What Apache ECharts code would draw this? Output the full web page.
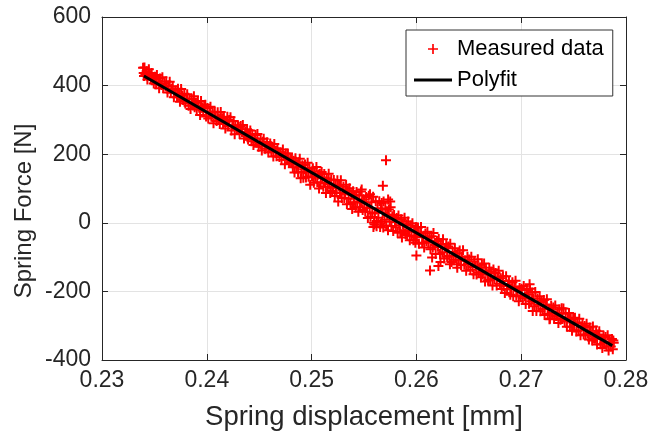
<!DOCTYPE html>
<html>
<head>
<meta charset="utf-8">
<title>Spring force vs displacement</title>
<script src="https://cdn.jsdelivr.net/npm/echarts@6/dist/echarts.min.js"></script>
<style>
  html, body { margin: 0; padding: 0; background: #fff; }
  #chart { width: 662px; height: 436px; }
</style>
</head>
<body>
<div id="chart"></div>
<script>
// Measured spring displacement [mm], one row per 0.001 mm slice
const dispMm = [
  0.23392, 0.23398, 0.23401, 0.23405, 0.23414, 0.23426, 0.23433, 0.23447, 0.23455, 0.23466, 0.23474, 0.23487, 0.23494,
  0.23504, 0.23516, 0.23524, 0.23537, 0.23545, 0.23553, 0.23567, 0.23576, 0.23584, 0.23596,
  0.23606, 0.23613, 0.23625, 0.23634, 0.23646, 0.23657, 0.23664, 0.23675, 0.23686, 0.23693,
  0.23703, 0.23716, 0.23725, 0.23736, 0.23744, 0.23755, 0.23767, 0.23774, 0.23786, 0.23795,
  0.23805, 0.23813, 0.23826, 0.23834, 0.23845, 0.23856, 0.23865, 0.23877, 0.23884, 0.23896,
  0.23904, 0.23915, 0.23923, 0.23936, 0.23945, 0.23954, 0.23966, 0.23975, 0.23986, 0.23993,
  0.24006, 0.24014, 0.24027, 0.24035, 0.24043, 0.24057, 0.24064, 0.24076, 0.24085, 0.24094,
  0.24104, 0.24116, 0.24124, 0.24133, 0.24146, 0.24155, 0.24163, 0.24177, 0.24184, 0.24196,
  0.24203, 0.24214, 0.24226, 0.24235, 0.24244, 0.24256, 0.24266, 0.24273, 0.24285, 0.24297,
  0.24305, 0.24313, 0.24324, 0.24337, 0.24344, 0.24355, 0.24366, 0.24375, 0.24384, 0.24394,
  0.24404, 0.24415, 0.24426, 0.24434, 0.24445, 0.24453, 0.24465, 0.24476, 0.24483, 0.24495,
  0.24506, 0.24514, 0.24525, 0.24536, 0.24543, 0.24556, 0.24564, 0.24575, 0.24587, 0.24594,
  0.24605, 0.24616, 0.24624, 0.24635, 0.24644, 0.24657, 0.24665, 0.24674, 0.24686, 0.24693,
  0.24704, 0.24713, 0.24726, 0.24734, 0.24745, 0.24754, 0.24767, 0.24774, 0.24785, 0.24796,
  0.24804, 0.24812, 0.24821, 0.24829, 0.24837, 0.24846, 0.24854, 0.24862, 0.24871, 0.24879, 0.24887, 0.24896,
  0.24904, 0.24912, 0.24921, 0.24929, 0.24937, 0.24946, 0.24954, 0.24962, 0.24971, 0.24979, 0.24987, 0.24996,
  0.25004, 0.25012, 0.25021, 0.25029, 0.25037, 0.25046, 0.25054, 0.25062, 0.25071, 0.25079, 0.25087, 0.25096,
  0.25103, 0.25112, 0.25121, 0.25128, 0.25137, 0.25145, 0.25154, 0.25163, 0.25171, 0.25178, 0.25187, 0.25196,
  0.25204, 0.25212, 0.25221, 0.25229, 0.25238, 0.25246, 0.25254, 0.25262, 0.25271, 0.25279, 0.25288, 0.25296,
  0.25304, 0.25312, 0.25321, 0.25329, 0.25337, 0.25346, 0.25354, 0.25362, 0.25371, 0.25379, 0.25387, 0.25396,
  0.25404, 0.25412, 0.25421, 0.25429, 0.25437, 0.25446, 0.25454, 0.25462, 0.25471, 0.25479, 0.25487, 0.25496,
  0.25504, 0.25512, 0.25521, 0.25529, 0.25537, 0.25546, 0.25554, 0.25562, 0.25571, 0.25579, 0.25587, 0.25596,
  0.25604, 0.25612, 0.25621, 0.25629, 0.25637, 0.25646, 0.25654, 0.25662, 0.25671, 0.25679, 0.25687, 0.25696,
  0.25704, 0.25712, 0.25721, 0.25729, 0.25737, 0.25746, 0.25754, 0.25762, 0.25771, 0.25779, 0.25787, 0.25796,
  0.25804, 0.25812, 0.25821, 0.25829, 0.25837, 0.25846, 0.25854, 0.25862, 0.25871, 0.25879, 0.25887, 0.25896,
  0.25904, 0.25912, 0.25921, 0.25929, 0.25937, 0.25946, 0.25954, 0.25962, 0.25971, 0.25979, 0.25987, 0.25996,
  0.26004, 0.26015, 0.26024, 0.26036, 0.26044, 0.26055, 0.26066, 0.26074, 0.26086, 0.26095,
  0.26105, 0.26114, 0.26126, 0.26134, 0.26145, 0.26156, 0.26163, 0.26176, 0.26184, 0.26196,
  0.26206, 0.26213, 0.26225, 0.26234, 0.26247, 0.26254, 0.26265, 0.26276, 0.26285, 0.26293,
  0.26304, 0.26316, 0.26323, 0.26335, 0.26346, 0.26354, 0.26367, 0.26375, 0.26386, 0.26394,
  0.26405, 0.26413, 0.26426, 0.26434, 0.26445, 0.26457, 0.26464, 0.26475, 0.26487, 0.26494,
  0.26503, 0.26515, 0.26524, 0.26536, 0.26545, 0.26553, 0.26567, 0.26574, 0.26586, 0.26595,
  0.26604, 0.26616, 0.26625, 0.26633, 0.26646, 0.26655, 0.26664, 0.26677, 0.26684, 0.26696,
  0.26704, 0.26713, 0.26726, 0.26735, 0.26743, 0.26755, 0.26766, 0.26774, 0.26785, 0.26797,
  0.26805, 0.26814, 0.26826, 0.26833, 0.26844, 0.26856, 0.26865, 0.26876, 0.26883, 0.26896,
  0.26903, 0.26916, 0.26924, 0.26935, 0.26946, 0.26953, 0.26965, 0.26977, 0.26985, 0.26994,
  0.27004, 0.27015, 0.27024, 0.27036, 0.27043, 0.27054, 0.27066, 0.27075, 0.27084, 0.27096,
  0.27105, 0.27113, 0.27126, 0.27134, 0.27145, 0.27155, 0.27164, 0.27176, 0.27184, 0.27195,
  0.27204, 0.27216, 0.27223, 0.27236, 0.27245, 0.27253, 0.27265, 0.27274, 0.27286, 0.27295,
  0.27306, 0.27314, 0.27325, 0.27333, 0.27346, 0.27355, 0.27363, 0.27375, 0.27386, 0.27394,
  0.27403, 0.27415, 0.27424, 0.27436, 0.27444, 0.27456, 0.27465, 0.27473, 0.27485, 0.27496,
  0.27504, 0.27513, 0.27526, 0.27534, 0.27546, 0.27554, 0.27566, 0.27574, 0.27585, 0.27596,
  0.27605, 0.27614, 0.27624, 0.27635, 0.27646, 0.27653, 0.27664, 0.27677, 0.27684, 0.27695,
  0.27704, 0.27715, 0.27724, 0.27733, 0.27745, 0.27756, 0.27765, 0.27774, 0.27786, 0.27793,
  0.27805, 0.27814, 0.27825, 0.27834, 0.27846, 0.27855, 0.27866, 0.27874, 0.27879, 0.27883
];

// Measured spring force [N], same rows as dispMm
const forceN = [
  452, 437, 428, 453, 431, 442, 418, 448, 430, 418, 437, 422, 406,
  426, 404, 431, 412, 392, 421, 402, 424, 393, 406,
  398, 412, 380, 400, 411, 380, 391, 398, 366, 380,
  386, 366, 391, 371, 353, 390, 371, 358, 376, 348,
  362, 375, 341, 361, 332, 362, 347, 369, 337, 350,
  330, 355, 340, 314, 355, 337, 324, 340, 344, 310,
  335, 304, 324, 338, 309, 323, 290, 324, 310, 297,
  322, 304, 288, 323, 305, 290, 308, 275, 296, 309,
  282, 300, 308, 269, 284, 297, 258, 284, 271, 284,
  279, 259, 282, 265, 285, 246, 265, 254, 273, 243,
  257, 269, 238, 258, 227, 246, 256, 234, 259, 222,
  231, 245, 211, 236, 245, 216, 225, 235, 205, 224,
  231, 208, 222, 193, 230, 208, 194, 216, 206, 192,
  206, 184, 214, 195, 171, 202, 184, 202, 175, 188,
  176, 190, 162, 181, 147, 188, 162, 170, 147, 176, 187, 130,
  149, 168, 131, 156, 170, 132, 148, 175, 134, 159, 111, 149,
  135, 159, 117, 143, 134, 163, 118, 141, 100, 143, 117, 148,
  132, 105, 142, 116, 87, 130, 105, 143, 113, 87, 126, 93,
  102, 125, 78, 109, 88, 124, 62, 108, 87, 124, 72, 96,
  105, 72, 85, 111, 54, 94, 70, 101, 55, 83, 40, 92,
  60, 80, 45, 90, 62, 32, 80, 45, 91, 59, 37, 68,
  60, 32, 75, 43, 14, 79, 43, 18, 60, 27, 76, 0,
  30, 63, 5, 42, 15, 63, -12, 42, 3, 29, 62, 9,
  41, -8, 24, -22, 39, 3, 45, -9, 19, -24, 23, 2,
  -13, 14, -29, 21, -7, -27, 10, -43, -4, -22, 15, -33,
  -4, -36, 4, -26, -51, -8, -38, -1, -51, -24, -39, -13,
  -42, -14, -61, -29, -12, -58, -39, -72, -31, -54,
  -26, -58, -43, -77, -39, -72, -30, -65, -91, -53,
  -69, -47, -91, -62, -86, -48, -104, -74, -64, -99,
  -69, -96, -61, -114, -85, -108, -74, -98, -121, -89,
  -108, -81, -124, -99, -80, -122, -110, -140, -99, -120,
  -107, -137, -99, -129, -150, -113, -126, -151, -106, -144,
  -131, -159, -122, -151, -119, -171, -138, -151, -168, -131,
  -167, -143, -183, -136, -164, -146, -183, -159, -140, -178,
  -162, -193, -156, -184, -205, -156, -194, -179, -170, -210,
  -194, -173, -214, -186, -169, -212, -198, -229, -190, -214,
  -192, -220, -184, -214, -237, -196, -210, -236, -192, -229,
  -203, -221, -243, -202, -257, -221, -239, -214, -258, -231,
  -251, -225, -269, -240, -223, -265, -250, -280, -242, -263,
  -247, -280, -241, -272, -263, -292, -253, -283, -249, -278,
  -250, -287, -265, -303, -279, -263, -303, -280, -315, -280,
  -298, -277, -317, -291, -313, -280, -328, -303, -294, -326,
  -301, -328, -294, -323, -340, -305, -320, -343, -302, -337,
  -337, -315, -355, -326, -316, -354, -339, -365, -331, -350,
  -333, -360, -328, -372, -346, -361, -339, -369, -343, -350
];

// Stray readings away from the main band
const strayDispMm = [0.2571, 0.2568, 0.2567, 0.25478, 0.25557, 0.2573, 0.2575, 0.2562, 0.25684, 0.2560, 0.2559,
                     0.2599, 0.2600, 0.2613, 0.2615, 0.2621, 0.2623, 0.2632, 0.2639, 0.2708, 0.2711, 0.2727];
const strayForceN = [182, 108, 58, 97, 83, 68, 62, -10, -14, -5, -12,
                     -58, -95, -139, -101, -126, -114, -121, -131, -179, -257, -281];

// First-order polynomial fit, evaluated at both ends of the data
const fitDispMm = [0.2340, 0.27869];
const fitForceN = [428, -358];

const pairs = (xs, ys) => xs.map((x, i) => [x, ys[i]]);
const measured = pairs(dispMm, forceN).concat(pairs(strayDispMm, strayForceN));
const polyfit = pairs(fitDispMm, fitForceN);

const FONT = '"Liberation Sans", Arial, Helvetica, sans-serif';
const INK = '#262626';
// "+" marker drawn as a filled cross, arms 2 units thick in a 10x10 box
const PLUS = 'path://M4,0h2v4h4v2h-4v4h-2v-4h-4v-2h4z';
// Slimmer cross for the legend key
const PLUS_KEY = 'path://M3.75,0h1.5v3.75h3.75v1.5h-3.75v3.75h-1.5v-3.75h-3.75v-1.5h3.75z';
// Plain horizontal stroke for the fit legend entry
const DASH = 'path://M0,0h38v3h-38z';

const frameAxis = (extra) => Object.assign({
  type: 'value',
  axisLine: { show: true, onZero: false, lineStyle: { color: INK, width: 1 } },
  axisTick: { show: true, inside: true, length: 6, lineStyle: { color: INK, width: 1 } },
  axisLabel: { show: false },
  splitLine: { show: false }
}, extra);

const chart = echarts.init(document.getElementById('chart'), null, { renderer: 'canvas' });

chart.setOption({
  animation: false,
  backgroundColor: '#ffffff',
  grid: { left: 102, right: 36, top: 17, bottom: 75, containLabel: false },
  xAxis: [
    frameAxis({
      min: 0.23, max: 0.28, interval: 0.01, position: 'bottom',
      axisLabel: {
        show: true, color: INK, fontSize: 23, fontFamily: FONT, margin: 9,
        formatter: v => v.toFixed(2)
      },
      splitLine: { show: true, lineStyle: { color: '#e3e3e3', width: 1 } },
      name: 'Spring displacement [mm]', nameLocation: 'middle', nameGap: 43,
      nameTextStyle: { color: INK, fontSize: 27.5, fontFamily: FONT }
    }),
    frameAxis({ min: 0.23, max: 0.28, interval: 0.01, position: 'top' })
  ],
  yAxis: [
    frameAxis({
      min: -400, max: 600, interval: 200, position: 'left',
      axisLabel: { show: true, color: INK, fontSize: 23, fontFamily: FONT, margin: 11 },
      splitLine: { show: true, lineStyle: { color: '#e3e3e3', width: 1 } }
    }),
    frameAxis({ min: -400, max: 600, interval: 200, position: 'right' })
  ],
  legend: {
    orient: 'vertical', left: 406, top: 30,
    itemWidth: 38, itemHeight: 10, itemGap: 9,
    padding: [8, 9, 5, 8],
    borderColor: '#333333', borderWidth: 1, backgroundColor: '#ffffff',
    textStyle: { color: '#000000', fontSize: 22, fontFamily: FONT },
    data: [
      { name: 'Measured data', icon: PLUS_KEY, itemStyle: { color: '#ff0000' } },
      { name: 'Polyfit', icon: DASH, itemStyle: { color: '#000000' } }
    ]
  },
  graphic: [{
    type: 'text', x: 24, y: 211, rotation: Math.PI / 2,
    style: {
      text: 'Spring Force [N]', fill: INK, fontSize: 24, fontFamily: FONT,
      align: 'center', verticalAlign: 'middle'
    }
  }],
  series: [
    {
      name: 'Measured data', type: 'scatter', xAxisIndex: 0, yAxisIndex: 0,
      data: measured, symbol: PLUS, symbolSize: 10,
      itemStyle: { color: '#ff0000', opacity: 1 },
      emphasis: { disabled: true }, z: 2
    },
    {
      name: 'Polyfit', type: 'line', xAxisIndex: 0, yAxisIndex: 0,
      data: polyfit, symbol: 'none', showSymbol: false,
      lineStyle: { color: '#000000', width: 3 },
      itemStyle: { color: '#000000' },
      emphasis: { disabled: true }, z: 3
    }
  ]
});
</script>
</body>
</html>
